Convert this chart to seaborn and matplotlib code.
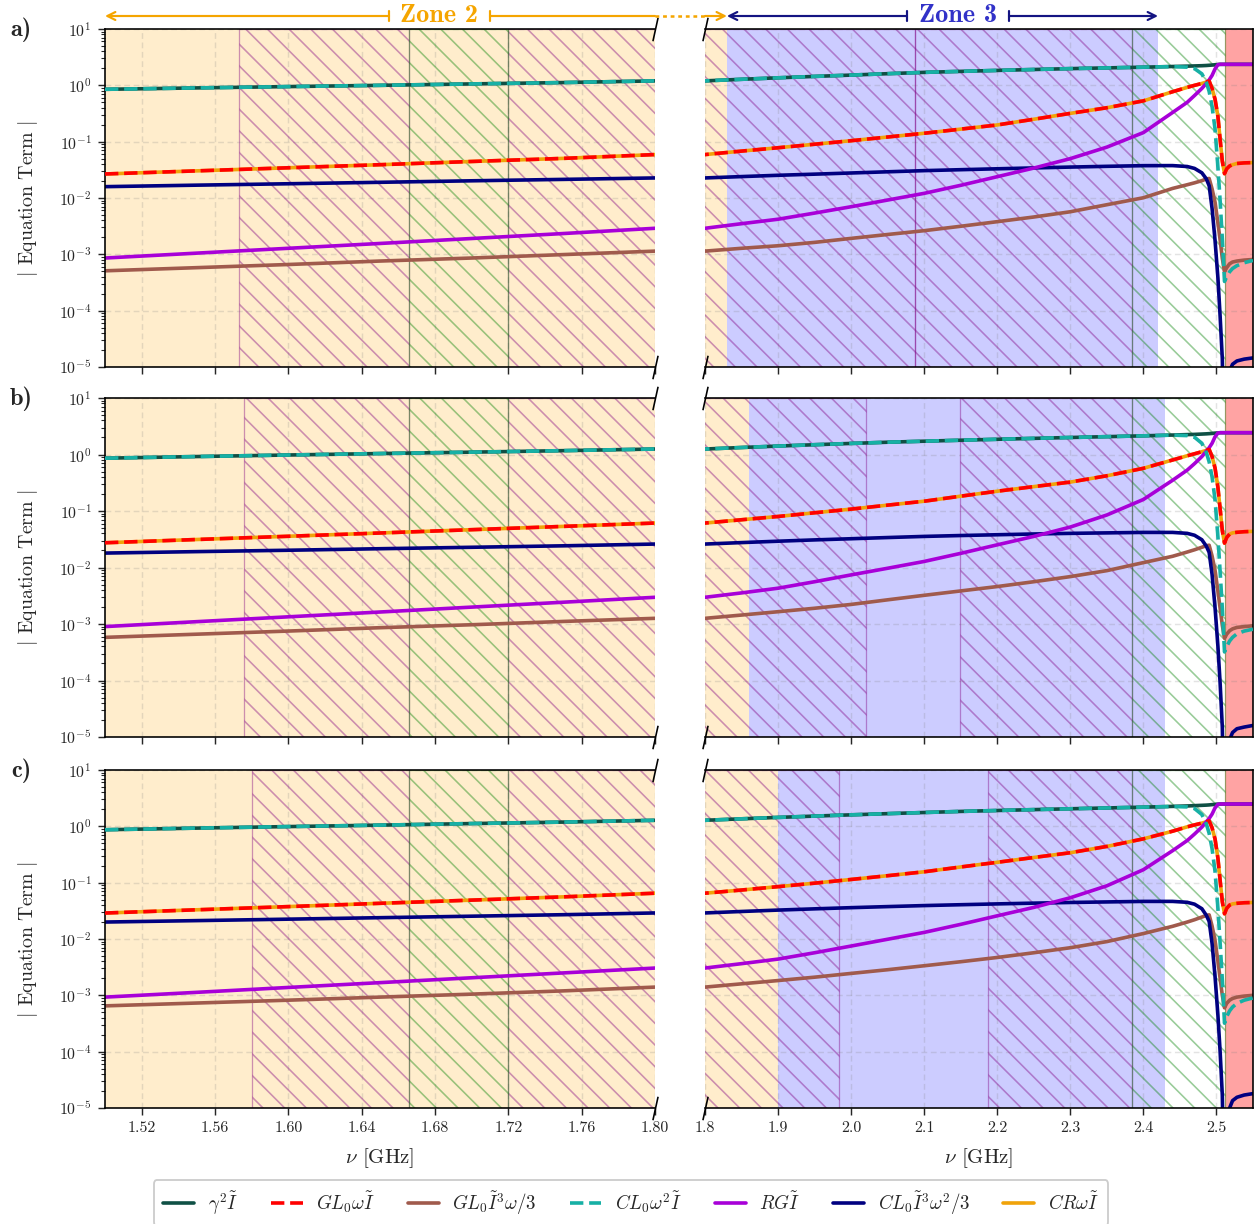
import matplotlib
matplotlib.use("Agg")
import matplotlib.pyplot as plt
from matplotlib.lines import Line2D
from matplotlib.ticker import FormatStrFormatter, NullFormatter, LogLocator
import pandas as pd
import seaborn as sns

sns.set_style("ticks")
plt.rcParams["font.family"] = ["cmr10", "DejaVu Serif"]
plt.rcParams["mathtext.fontset"] = "cm"
plt.rcParams["axes.formatter.use_mathtext"] = True
plt.rcParams["axes.unicode_minus"] = False
plt.rcParams["hatch.linewidth"] = 0.9
plt.rcParams["axes.edgecolor"] = "black"

# ---------------------------------------------------------------- data
# frequency samples [GHz]
freq = [1.50, 1.55, 1.60, 1.65, 1.70, 1.75, 1.80,
        1.85, 1.90, 1.95, 2.00, 2.05, 2.10, 2.15, 2.20, 2.25, 2.30, 2.35, 2.40,
        2.44, 2.46, 2.47, 2.48, 2.486, 2.490, 2.494, 2.498,
        2.502, 2.505, 2.508, 2.511, 2.514, 2.518, 2.522, 2.528, 2.538, 2.55]

# ---- case a)
g2_a = [0.85, 0.90, 0.95, 1.00, 1.06, 1.12, 1.20,
        1.28, 1.36, 1.44, 1.52, 1.61, 1.70, 1.77, 1.84, 1.91, 1.98, 2.04, 2.10,
        2.16, 2.19, 2.21, 2.23, 2.25, 2.27, 2.29, 2.32,
        2.34, 2.36, 2.36, 2.36, 2.36, 2.36, 2.36, 2.36, 2.36, 2.36]
cl0w2_a = [0.85, 0.90, 0.95, 1.00, 1.06, 1.12, 1.20,
           1.28, 1.36, 1.44, 1.52, 1.61, 1.70, 1.77, 1.84, 1.91, 1.98, 2.04, 2.10,
           2.15, 2.10, 1.98, 1.60, 1.15, 0.78, 0.42, 0.17,
           0.035, 9.0e-3, 1.9e-3, 3.3e-4, 4.0e-4, 4.9e-4, 5.6e-4, 6.3e-4, 7.1e-4, 7.8e-4]
gl0w_a = [0.0267, 0.0303, 0.0344, 0.0390, 0.0445, 0.0505, 0.0590,
          0.068, 0.078, 0.090, 0.104, 0.121, 0.141, 0.167, 0.198, 0.250, 0.318, 0.40, 0.53,
          0.77, 0.92, 1.00, 1.08, 1.14, 1.19, 0.88, 0.57,
          0.28, 0.11, 0.045, 0.027, 0.033, 0.037, 0.039, 0.041, 0.042, 0.0425]
gl0i3_a = [5.1e-4, 5.8e-4, 6.6e-4, 7.6e-4, 8.6e-4, 9.9e-4, 1.14e-3,
           1.28e-3, 1.42e-3, 1.63e-3, 1.92e-3, 2.25e-3, 2.63e-3, 3.15e-3, 3.8e-3, 4.6e-3, 5.7e-3, 7.6e-3, 0.0101,
           0.0148, 0.0172, 0.0186, 0.0203, 0.0218, 0.0222, 0.0145, 8.5e-3,
           3.6e-3, 1.8e-3, 8.5e-4, 4.9e-4, 5.8e-4, 6.8e-4, 7.3e-4, 7.6e-4, 7.9e-4, 8.1e-4]
rg_a = [8.6e-4, 1.05e-3, 1.28e-3, 1.56e-3, 1.91e-3, 2.34e-3, 2.9e-3,
        3.5e-3, 4.2e-3, 5.4e-3, 7.0e-3, 9.2e-3, 0.0121, 0.0168, 0.0239, 0.034, 0.050, 0.080, 0.145,
        0.33, 0.50, 0.66, 0.88, 1.08, 1.25, 1.50, 1.95,
        2.33, 2.36, 2.36, 2.36, 2.36, 2.36, 2.36, 2.36, 2.36, 2.36]
cl0i3_a = [0.0159, 0.0169, 0.0179, 0.0190, 0.0202, 0.0214, 0.0227,
           0.0240, 0.0253, 0.0265, 0.0278, 0.0292, 0.0306, 0.0318, 0.0330, 0.0342, 0.0354, 0.0365, 0.0375,
           0.0376, 0.0362, 0.0335, 0.0280, 0.0220, 0.0165, 6.5e-3, 1.8e-3,
           3.8e-4, 8.0e-5, 1.4e-5, 1.0e-7, 3.0e-6, 8.5e-6, 1.12e-5, 1.28e-5, 1.38e-5, 1.45e-5]
cr_a = gl0w_a

# ---- case b)
g2_b = [0.86, 0.92, 0.98, 1.04, 1.10, 1.17, 1.25,
        1.33, 1.41, 1.49, 1.57, 1.65, 1.72, 1.79, 1.86, 1.93, 2.00, 2.07, 2.14,
        2.21, 2.25, 2.27, 2.30, 2.32, 2.34, 2.36, 2.39,
        2.41, 2.43, 2.43, 2.43, 2.43, 2.43, 2.43, 2.43, 2.43, 2.43]
cl0w2_b = [0.86, 0.92, 0.98, 1.04, 1.10, 1.17, 1.25,
           1.33, 1.41, 1.49, 1.57, 1.65, 1.72, 1.79, 1.86, 1.93, 2.00, 2.07, 2.14,
           2.20, 2.16, 2.02, 1.58, 1.10, 0.74, 0.40, 0.16,
           0.035, 8.5e-3, 1.9e-3, 3.2e-4, 4.0e-4, 5.0e-4, 5.8e-4, 6.7e-4, 7.5e-4, 8.1e-4]
gl0w_b = [0.0274, 0.0313, 0.0357, 0.0408, 0.0467, 0.0534, 0.0612,
          0.070, 0.080, 0.093, 0.108, 0.127, 0.149, 0.183, 0.224, 0.270, 0.325, 0.42, 0.57,
          0.80, 0.95, 1.03, 1.12, 1.18, 1.23, 0.92, 0.58,
          0.26, 0.11, 0.045, 0.027, 0.034, 0.039, 0.041, 0.042, 0.043, 0.0436]
gl0i3_b = [5.8e-4, 6.6e-4, 7.5e-4, 8.6e-4, 9.7e-4, 1.11e-3, 1.26e-3,
           1.44e-3, 1.65e-3, 1.90e-3, 2.22e-3, 2.68e-3, 3.22e-3, 3.85e-3, 4.6e-3, 5.6e-3, 6.9e-3, 8.8e-3, 0.0122,
           0.0158, 0.0188, 0.0206, 0.0228, 0.0243, 0.0248, 0.016, 9.0e-3,
           3.8e-3, 1.9e-3, 9.5e-4, 5.6e-4, 6.6e-4, 7.6e-4, 8.2e-4, 8.7e-4, 9.0e-4, 9.3e-4]
rg_b = [9.0e-4, 1.10e-3, 1.34e-3, 1.63e-3, 1.99e-3, 2.43e-3, 2.97e-3,
        3.55e-3, 4.3e-3, 5.6e-3, 7.4e-3, 9.7e-3, 0.0128, 0.0178, 0.0252, 0.0355, 0.052, 0.085, 0.16,
        0.35, 0.53, 0.69, 0.92, 1.14, 1.32, 1.58, 2.05,
        2.40, 2.43, 2.43, 2.43, 2.43, 2.43, 2.43, 2.43, 2.43, 2.43]
cl0i3_b = [0.0180, 0.0191, 0.0202, 0.0215, 0.0228, 0.0242, 0.0260,
           0.0276, 0.0292, 0.0308, 0.0323, 0.0339, 0.0355, 0.0368, 0.0380, 0.0392, 0.0402, 0.0410, 0.0418,
           0.0418, 0.0402, 0.0372, 0.0310, 0.0240, 0.0185, 7.5e-3, 2.0e-3,
           4.0e-4, 9.0e-5, 1.5e-5, 1.0e-7, 3.0e-6, 9.0e-6, 1.2e-5, 1.4e-5, 1.5e-5, 1.6e-5]
cr_b = gl0w_b

# ---- case c)
g2_c = [0.87, 0.93, 0.99, 1.05, 1.12, 1.19, 1.28,
        1.36, 1.44, 1.52, 1.60, 1.68, 1.76, 1.84, 1.91, 1.98, 2.05, 2.12, 2.19,
        2.26, 2.30, 2.33, 2.36, 2.38, 2.40, 2.43, 2.45,
        2.48, 2.49, 2.49, 2.49, 2.49, 2.49, 2.49, 2.49, 2.49, 2.49]
cl0w2_c = [0.87, 0.93, 0.99, 1.05, 1.12, 1.19, 1.28,
           1.36, 1.44, 1.52, 1.60, 1.68, 1.76, 1.84, 1.91, 1.98, 2.05, 2.12, 2.19,
           2.25, 2.21, 2.07, 1.62, 1.12, 0.75, 0.40, 0.16,
           0.035, 8.5e-3, 1.9e-3, 3.2e-4, 4.2e-4, 5.3e-4, 6.2e-4, 7.2e-4, 8.2e-4, 9.0e-4]
gl0w_c = [0.0289, 0.033, 0.0376, 0.043, 0.049, 0.056, 0.065,
          0.074, 0.085, 0.098, 0.114, 0.133, 0.156, 0.19, 0.23, 0.28, 0.34, 0.44, 0.60,
          0.82, 0.98, 1.06, 1.14, 1.20, 1.25, 0.94, 0.60,
          0.27, 0.11, 0.046, 0.028, 0.035, 0.040, 0.042, 0.043, 0.044, 0.0445]
gl0i3_c = [6.5e-4, 7.3e-4, 8.2e-4, 9.3e-4, 1.05e-3, 1.2e-3, 1.4e-3,
           1.6e-3, 1.83e-3, 2.1e-3, 2.45e-3, 2.85e-3, 3.35e-3, 3.95e-3, 4.7e-3, 5.7e-3, 7.0e-3, 9.0e-3, 0.0125,
           0.0168, 0.020, 0.022, 0.0245, 0.0262, 0.0268, 0.017, 9.5e-3,
           4.0e-3, 2.0e-3, 1.0e-3, 6.0e-4, 7.2e-4, 8.2e-4, 8.8e-4, 9.3e-4, 9.7e-4, 1.0e-3]
rg_c = [9.3e-4, 1.13e-3, 1.38e-3, 1.68e-3, 2.05e-3, 2.5e-3, 3.05e-3,
        3.65e-3, 4.4e-3, 5.7e-3, 7.5e-3, 9.9e-3, 0.0131, 0.0182, 0.0258, 0.0364, 0.054, 0.088, 0.17,
        0.37, 0.56, 0.73, 0.97, 1.20, 1.38, 1.65, 2.12,
        2.46, 2.49, 2.49, 2.49, 2.49, 2.49, 2.49, 2.49, 2.49, 2.49]
cl0i3_c = [0.0200, 0.0212, 0.0225, 0.0239, 0.0254, 0.0270, 0.0290,
           0.0308, 0.0326, 0.0343, 0.0360, 0.0376, 0.0392, 0.0406, 0.0420, 0.0433, 0.0445, 0.0455, 0.0465,
           0.0465, 0.0448, 0.0415, 0.0345, 0.0265, 0.0205, 8.3e-3, 2.2e-3,
           4.4e-4, 1.0e-4, 1.7e-5, 1.0e-7, 3.5e-6, 1.0e-5, 1.35e-5, 1.55e-5, 1.7e-5, 1.8e-5]
cr_c = gl0w_c

cases = [
    dict(g2=g2_a, gl0w=gl0w_a, gl0i3=gl0i3_a, cl0w2=cl0w2_a, rg=rg_a, cl0i3=cl0i3_a, cr=cr_a),
    dict(g2=g2_b, gl0w=gl0w_b, gl0i3=gl0i3_b, cl0w2=cl0w2_b, rg=rg_b, cl0i3=cl0i3_b, cr=cr_b),
    dict(g2=g2_c, gl0w=gl0w_c, gl0i3=gl0i3_c, cl0w2=cl0w2_c, rg=rg_c, cl0i3=cl0i3_c, cr=cr_c),
]
case_tags = ["a)", "b)", "c)"]

# operating zones [GHz]
zone2_end = [1.83, 1.86, 1.90]
zone3_end = [2.42, 2.43, 2.43]
purple_spans = [
    [(1.573, 1.666), (1.72, 2.088), (2.088, 2.384)],
    [(1.576, 1.666), (1.72, 2.02), (2.149, 2.384)],
    [(1.580, 1.666), (1.72, 1.984), (2.188, 2.384)],
]
green_spans = [(1.666, 1.72), (2.384, 2.511)]
red_start = 2.511

left_ticks = [1.52, 1.56, 1.60, 1.64, 1.68, 1.72, 1.76, 1.80]
right_ticks = [1.8, 1.9, 2.0, 2.1, 2.2, 2.3, 2.4, 2.5]

# legend order: key, label, colour, linestyle, zorder
styles = [
    ("g2", r"$\gamma^2\tilde{I}$", "#0f5045", "-", 2.1),
    ("gl0w", r"$GL_0\omega\tilde{I}$", "red", "--", 2.6),
    ("gl0i3", r"$GL_0\tilde{I}^3\omega/3$", "#a05a4c", "-", 2.2),
    ("cl0w2", r"$CL_0\omega^2\tilde{I}$", "#17b0a5", "--", 2.7),
    ("rg", r"$RG\tilde{I}$", "#a800d8", "-", 2.4),
    ("cl0i3", r"$CL_0\tilde{I}^3\omega^2/3$", "navy", "-", 2.3),
    ("cr", r"$CR\omega\tilde{I}$", "#f0a30a", "-", 2.0),
]

# ---------------------------------------------------------------- figure
W, H, DPI = 1254, 1224, 130
fig = plt.figure(figsize=(W / DPI, H / DPI), dpi=DPI)


def px_box(x0, y0, x1, y1):
    return [x0 / W, 1 - y1 / H, (x1 - x0) / W, (y1 - y0) / H]


row_px = [(29, 367), (398, 737), (770, 1108)]
LW = 2.0
HATCH = "\\\\"
axes_rows = []

for r, (top, bot) in enumerate(row_px):
    axL = fig.add_axes(px_box(105, top, 655, bot))
    axR = fig.add_axes(px_box(705, top, 1253, bot))
    axes_rows.append((axL, axR))
    df = pd.DataFrame({"freq": freq, **cases[r]})

    for ax in (axL, axR):
        ax.set_yscale("log")
        ax.set_ylim(1e-5, 1e1)
        ax.axvspan(1.45, zone2_end[r], color="orange", alpha=0.2, lw=0, zorder=0.5)
        ax.axvspan(zone2_end[r], zone3_end[r], color="blue", alpha=0.2, lw=0, zorder=0.5)
        ax.axvspan(red_start, 2.6, color="red", alpha=0.36, lw=0, zorder=0.5)
        for x0, x1 in purple_spans[r]:
            ax.axvspan(x0, x1, facecolor="none", edgecolor="purple", hatch=HATCH,
                       alpha=0.4, lw=0.7, zorder=0.6)
        for x0, x1 in green_spans:
            ax.axvspan(x0, x1, facecolor="none", edgecolor="green", hatch=HATCH,
                       alpha=0.4, lw=0.7, zorder=0.6)
        for key, label, color, ls, z in styles:
            sns.lineplot(data=df, x="freq", y=key, ax=ax, color=color,
                         linestyle=ls, lw=LW, zorder=z, sort=False)
        ax.grid(True, which="major", ls=(0, (4, 2.5)), color="gray", alpha=0.22, lw=0.8)
        ax.set_xlabel("")
        ax.set_ylabel("")
        ax.tick_params(axis="both", which="major", labelsize=8.8, length=4, width=0.8,
                       direction="out")
        ax.tick_params(axis="y", which="minor", length=2, width=0.6)
        for s in ax.spines.values():
            s.set_linewidth(0.9)

    axL.set_xlim(1.5, 1.8)
    axR.set_xlim(1.8, 2.55)
    axL.set_xticks(left_ticks)
    axL.xaxis.set_major_formatter(FormatStrFormatter("%.2f"))
    axR.set_xticks(right_ticks)
    axR.xaxis.set_major_formatter(FormatStrFormatter("%.1f"))
    axL.yaxis.set_major_locator(LogLocator(base=10, numticks=10))
    axL.yaxis.set_minor_locator(LogLocator(base=10, subs=range(2, 10), numticks=20))
    axL.yaxis.set_minor_formatter(NullFormatter())
    axL.spines["right"].set_visible(False)
    axR.spines["left"].set_visible(False)
    axR.tick_params(axis="y", which="both", left=False, right=False, labelleft=False)
    axL.tick_params(axis="y", which="both", right=False)

    if r < 2:
        axL.tick_params(axis="x", labelbottom=False)
        axR.tick_params(axis="x", labelbottom=False)
    else:
        axL.set_xlabel(r"$\nu$ [GHz]", fontsize=11.5, labelpad=6)
        axR.set_xlabel(r"$\nu$ [GHz]", fontsize=11.5, labelpad=6)

    axL.set_ylabel(r"$|$ Equation Term $|$", fontsize=11)
    axL.yaxis.set_label_coords(-0.118, 0.5)

    # broken-axis marks
    d = 0.22
    kw = dict(marker=[(-d, -1), (d, 1)], markersize=13, linestyle="none", color="k",
              mec="k", mew=0.9, clip_on=False, zorder=5)
    axL.plot([1, 1], [0, 1], transform=axL.transAxes, **kw)
    axR.plot([0, 0], [0, 1], transform=axR.transAxes, **kw)

    fig.text(21 / W, 1 - (top + 1) / H, case_tags[r], fontfamily="cmb10", fontsize=13.5,
             ha="center", va="center")

# ---------------------------------------------------------------- zone arrows
axLa, axRa = axes_rows[0]
inv = fig.transFigure.inverted()


def fig_x(ax, xv):
    return inv.transform(ax.transData.transform((xv, 1.0)))[0]


yz = 1 - 16 / H
bar_h = 5 / H
z2_col, z3_text_col, z3_col = "#f5a500", "#3232c8", "#141482"


def bar(x, col):
    fig.add_artist(Line2D([x, x], [yz - bar_h, yz + bar_h], color=col, lw=1.2))


def arrow(x_from, x_to, col):
    axLa.annotate("", xy=(x_to, yz), xytext=(x_from, yz), xycoords="figure fraction",
                  textcoords="figure fraction", annotation_clip=False,
                  arrowprops=dict(arrowstyle="->", color=col, lw=1.2, shrinkA=0, shrinkB=0,
                                  mutation_scale=11))


# Zone 2
z2_l, z2_r = 389 / W, 490 / W
x_gap_l, x_gap_r = fig_x(axLa, 1.8), fig_x(axRa, 1.8)
arrow(z2_l, fig_x(axLa, 1.5), z2_col)
bar(z2_l, z2_col)
bar(z2_r, z2_col)
fig.add_artist(Line2D([z2_r, x_gap_l], [yz, yz], color=z2_col, lw=1.2))
fig.add_artist(Line2D([x_gap_l, x_gap_r], [yz, yz], color=z2_col, lw=1.4, ls=(0, (1.5, 1.5))))
arrow(x_gap_r, fig_x(axRa, zone2_end[0]), z2_col)
fig.text((z2_l + z2_r) / 2, yz, "Zone 2", color=z2_col, fontfamily="cmb10", fontsize=14.5,
         ha="center", va="center")

# Zone 3
z3_l, z3_r = 907 / W, 1009 / W
arrow(z3_l, fig_x(axRa, zone2_end[0]), z3_col)
arrow(z3_r, fig_x(axRa, zone3_end[0]), z3_col)
bar(z3_l, z3_col)
bar(z3_r, z3_col)
fig.text((z3_l + z3_r) / 2, yz, "Zone 3", color=z3_text_col, fontfamily="cmb10",
         fontsize=14.5, ha="center", va="center")

# ---------------------------------------------------------------- legend
handles = [Line2D([], [], color=c, ls=ls, lw=LW) for _, _, c, ls, _ in styles]
labels = [lab for _, lab, _, _, _ in styles]
fig.legend(handles, labels, loc="center", bbox_to_anchor=(631 / W, 1 - 1203 / H), ncol=7,
           fontsize=10.5, frameon=True, fancybox=True, edgecolor="0.8", framealpha=1,
           handlelength=1.65, handletextpad=0.7, columnspacing=1.75, borderpad=0.5)

fig.savefig("out.png", dpi=DPI)
